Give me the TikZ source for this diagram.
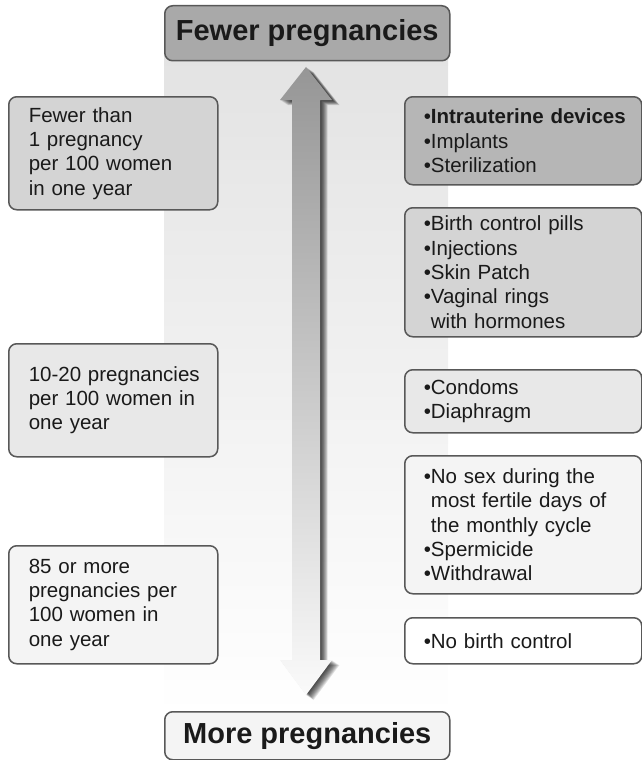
\documentclass[tikz,border=0pt]{standalone}
\usepackage{fontspec}
\setmainfont{Liberation Sans}
\usetikzlibrary{positioning}
\definecolor{edgegray}{RGB}{88,88,88}
\definecolor{inkgray}{RGB}{26,26,26}
\definecolor{polefew}{RGB}{169,169,169}
\definecolor{polemore}{RGB}{244,244,244}
\definecolor{tiertop}{RGB}{182,182,182}
\definecolor{tierhigh}{RGB}{212,212,212}
\definecolor{tiermid}{RGB}{232,232,232}
\definecolor{tierlow}{RGB}{244,244,244}
\definecolor{bandtop}{RGB}{226,226,226}
\definecolor{arrowtop}{RGB}{150,150,150}
\definecolor{arrowbot}{RGB}{250,250,250}
\newcommand{\bul}{•}
\tikzset{
  card/.style={draw=edgegray,line width=1.5pt,rounded corners=8pt,anchor=north west,
               inner ysep=2pt,text=inkgray,font=\fontsize{20.5}{24.3}\selectfont},
  rate/.style={card,align=left,minimum width=209pt,text width=175pt,inner xsep=17pt},
  method/.style={card,align=left,minimum width=237pt,text width=207pt,inner xsep=15pt},
  pole/.style={card,minimum width=285pt,font=\fontsize{29}{34}\selectfont\bfseries},
}

\begin{document}
\begin{tikzpicture}[x=1pt,y=-1pt]
  \useasboundingbox (0,0) rectangle (642,760);
  \shade[top color=bandtop,bottom color=white] (164,30) rectangle (448,715);

  % scale arrow with its shadow
  \foreach \s in {1,...,10}
    \fill[black,opacity=0.11,shift={(\s*0.75,\s*0.5)}]
      (306,67) -- (332,100) -- (320,100) -- (320,660) -- (332,660) -- (306,695)
      -- (280,660) -- (292,660) -- (292,100) -- (280,100) -- cycle;
  \shade[top color=arrowtop,bottom color=arrowbot]
    (306,67) -- (332,100) -- (320,100) -- (320,660) -- (332,660) -- (306,695)
    -- (280,660) -- (292,660) -- (292,100) -- (280,100) -- cycle;

  \node[pole,fill=polefew,minimum height=55pt] (few) at (164,5) {Fewer pregnancies};
  \node[pole,fill=polemore,minimum height=48pt] (more) at (164,711) {More pregnancies};

  \node[rate,fill=tierhigh,minimum height=113pt] (rateA) at (8,96)
    {\hspace*{3pt}Fewer than\\\hspace*{3pt}1 pregnancy\\\hspace*{3pt}per 100 women\\\hspace*{3pt}in one year};
  \node[rate,fill=tiermid,minimum height=113pt] (rateB) at (8,343)
    {\hspace*{3pt}10-20 pregnancies\\\hspace*{3pt}per 100 women in\\\hspace*{3pt}one year};
  \node[rate,fill=tierlow,minimum height=118pt] (rateC) at (8,545)
    {\hspace*{3pt}85 or more\\\hspace*{3pt}pregnancies per\\\hspace*{3pt}100 women in\\\hspace*{3pt}one year};

  \node[method,fill=tiertop,minimum height=88pt] (methA) at (404,96)
    {\hspace*{4pt}\bul\textbf{Intrauterine devices}\\\hspace*{4pt}\bul Implants\\\hspace*{4pt}\bul Sterilization};
  \node[method,fill=tierhigh,minimum height=129pt] (methB) at (404,207)
    {\hspace*{4pt}\bul Birth control pills\\\hspace*{4pt}\bul Injections\\\hspace*{4pt}\bul Skin Patch\\
     \hspace*{4pt}\bul Vaginal rings\\\hspace*{4pt}\hphantom{\bul}with hormones};
  \node[method,fill=tiermid,minimum height=63pt] (methC) at (404,369)
    {\hspace*{4pt}\bul Condoms\\\hspace*{4pt}\bul Diaphragm};
  \node[method,fill=tierlow,minimum height=138pt] (methD) at (404,455)
    {\hspace*{4pt}\bul No sex during the\\\hspace*{4pt}\hphantom{\bul}most fertile days of\\
     \hspace*{4pt}\hphantom{\bul}the monthly cycle\\\hspace*{4pt}\bul Spermicide\\\hspace*{4pt}\bul Withdrawal};
  \node[method,fill=white,minimum height=46pt] (methE) at (404,617)
    {\hspace*{4pt}\bul No birth control};
\end{tikzpicture}
\end{document}
